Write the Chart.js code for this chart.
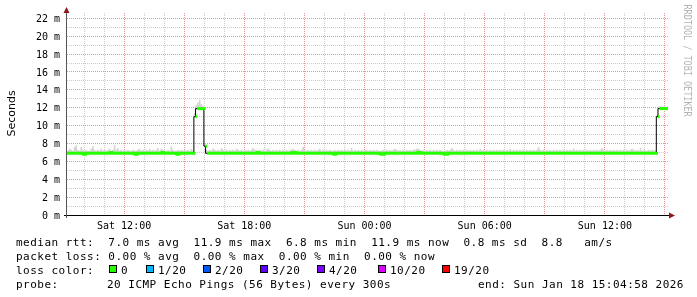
<!DOCTYPE html>
<html>
<head>
<meta charset="utf-8">
<script src="https://cdn.jsdelivr.net/npm/chart.js@4.4.1/dist/chart.umd.min.js"></script>
<style>
  html, body { margin: 0; padding: 0; background: #fff; }
  #wrap { position: relative; width: 697px; height: 297px; }
</style>
</head>
<body>
<div id="wrap"><canvas id="smoke" width="697" height="297"></canvas></div>
<script>
// time axis: minutes since Sat 00:00, one sample every 5 minutes
const startMin = 549;
const endMin = 2349;
const stepMin = 5;

// median rtt in ms, one row = 1 hour
const medianMs = [
  6.9,6.9,6.9,6.9,6.9,6.9,6.9,6.9,6.9,6.9,6.8,6.9,
  6.9,6.9,6.9,6.9,6.9,6.9,6.9,6.9,6.9,6.9,6.9,6.9,
  6.9,6.9,7.0,6.9,6.9,6.9,6.9,6.9,6.9,6.9,6.9,6.9,
  6.9,6.9,6.9,6.9,6.9,6.8,6.9,6.9,6.9,6.9,6.9,6.9,
  6.9,6.9,6.9,6.9,6.9,6.9,6.9,6.9,6.9,7.0,6.9,6.9,
  6.9,6.9,6.9,6.9,6.9,6.9,6.8,6.9,6.9,6.9,6.9,6.9,
  6.9,6.9,6.9,6.9,6.9,11.0,11.9,11.9,11.9,11.9,11.9,7.7,
  6.9,6.9,6.9,6.9,6.9,6.9,6.9,6.9,6.9,6.9,6.9,6.9,
  6.9,6.9,6.9,6.9,6.9,6.9,6.9,6.9,6.9,6.9,6.9,6.9,
  6.9,6.9,6.9,6.9,6.9,6.9,7.0,6.9,6.9,6.9,6.9,6.9,
  6.9,6.9,6.9,6.9,6.9,6.9,6.9,6.9,6.9,6.9,6.9,6.9,
  6.9,6.9,6.9,7.0,7.0,6.9,6.9,6.9,6.9,6.9,6.9,6.9,
  6.9,6.9,6.9,6.9,6.9,6.9,6.9,6.9,6.9,6.9,6.9,6.9,
  6.9,6.9,6.9,6.9,6.8,6.9,6.9,6.9,6.9,6.9,6.9,6.9,
  6.9,6.9,6.9,6.9,6.9,6.9,6.9,6.9,6.9,6.9,6.9,6.9,
  6.9,6.9,6.9,6.9,6.9,6.9,6.9,6.9,6.8,6.8,6.9,6.9,
  6.9,6.9,6.9,6.9,6.9,6.9,6.9,6.9,6.9,6.9,6.9,6.9,
  6.9,6.9,6.9,6.9,6.9,6.9,7.0,7.0,6.9,6.9,6.9,6.9,
  6.9,6.9,6.9,6.9,6.9,6.9,6.9,6.9,6.9,6.9,6.8,6.8,
  6.9,6.9,6.9,6.9,6.9,6.9,6.9,6.9,6.9,6.9,6.9,6.9,
  6.9,6.9,6.9,6.9,6.9,6.9,6.9,6.9,6.9,6.9,6.9,6.9,
  6.9,6.9,6.9,6.9,6.9,6.9,6.9,6.9,6.9,6.9,6.9,6.9,
  6.9,6.9,6.9,6.9,6.9,6.9,6.9,6.9,6.9,6.9,6.9,6.9,
  6.9,6.9,6.9,6.9,6.9,6.9,6.9,6.9,6.9,6.9,6.9,6.9,
  6.9,6.9,6.9,6.9,6.9,6.9,6.9,6.9,6.9,6.9,6.9,6.9,
  6.9,6.9,6.9,6.9,6.9,6.9,6.9,6.9,6.9,6.9,6.9,6.9,
  6.9,6.9,6.9,6.9,6.9,6.9,6.9,6.9,6.9,6.9,6.9,6.9,
  6.9,6.9,6.9,6.9,6.9,6.9,6.9,6.9,6.9,6.9,6.9,6.9,
  6.9,6.9,6.9,6.9,6.9,6.9,6.9,6.9,6.9,6.9,6.9,6.9,
  6.9,6.9,6.9,6.9,6.9,6.9,11.0,11.9,11.9,11.9,11.9,11.9,
  11.9
];

// top of the ping "smoke" in ms
const smokeTopMs = [
  7.3,7.2,7.4,7.3,7.2,7.6,7.8,7.3,7.2,7.6,7.3,7.2,
  7.3,7.2,7.2,7.4,7.7,7.3,7.2,7.3,7.2,7.4,7.2,7.3,
  7.2,7.3,7.4,7.2,7.3,7.8,7.3,7.5,7.2,7.3,7.2,7.3,
  7.2,7.3,7.2,7.2,7.3,7.2,7.2,7.3,7.4,7.2,7.3,7.2,
  7.3,7.2,7.4,7.2,7.3,7.2,7.3,7.5,7.2,7.4,7.3,7.2,
  7.2,7.3,7.2,7.7,7.3,7.2,7.2,7.3,7.2,7.3,7.2,7.3,
  7.2,7.3,7.2,7.4,7.2,11.4,12.3,12.6,12.9,12.4,12.2,8.0,
  7.3,7.2,7.3,7.2,7.4,7.3,7.2,7.3,7.2,7.5,7.3,7.2,
  7.3,7.2,7.3,7.2,7.3,7.2,7.4,7.3,7.2,7.3,7.2,7.3,
  7.2,7.3,7.2,7.3,7.5,7.3,7.3,7.2,7.3,7.2,7.3,7.2,
  7.3,7.4,7.3,7.2,7.3,7.2,7.3,7.2,7.3,7.2,7.3,7.2,
  7.3,7.2,7.3,7.3,7.4,7.3,7.2,7.3,7.2,7.3,7.6,7.3,
  7.2,7.3,7.2,7.3,7.2,7.3,7.2,7.3,7.4,7.2,7.3,7.2,
  7.3,7.2,7.3,7.2,7.2,7.3,7.2,7.3,7.2,7.3,7.2,7.3,
  7.2,7.3,7.2,7.5,7.2,7.3,7.2,7.3,7.2,7.3,7.2,7.3,
  7.3,7.2,7.3,7.2,7.3,7.2,7.3,7.2,7.2,7.2,7.3,7.2,
  7.3,7.2,7.3,7.2,7.3,7.4,7.3,7.2,7.3,7.2,7.3,7.2,
  7.3,7.2,7.3,7.2,7.3,7.3,7.4,7.4,7.3,7.2,7.3,7.2,
  7.3,7.2,7.3,7.2,7.3,7.2,7.3,7.2,7.3,7.2,7.2,7.2,
  7.3,7.2,7.3,7.5,7.3,7.2,7.3,7.2,7.3,7.2,7.3,7.2,
  7.3,7.2,7.3,7.2,7.3,7.2,7.3,7.2,7.4,7.2,7.3,7.2,
  7.3,7.2,7.3,7.2,7.3,7.2,7.3,7.2,7.3,7.2,7.3,7.2,
  7.3,7.2,7.4,7.2,7.3,7.2,7.3,7.2,7.3,7.2,7.3,7.2,
  7.3,7.2,7.3,7.2,7.3,7.2,7.3,7.6,7.3,7.2,7.3,7.2,
  7.3,7.2,7.3,7.2,7.3,7.2,7.3,7.2,7.3,7.2,7.3,7.2,
  7.3,7.2,7.3,7.2,7.4,7.2,7.3,7.2,7.3,7.2,7.3,7.2,
  7.3,7.2,7.3,7.2,7.3,7.2,7.3,7.2,7.3,7.5,7.3,7.2,
  7.3,7.2,7.3,7.2,7.3,7.2,7.3,7.2,7.3,7.2,7.3,7.2,
  7.3,7.2,7.3,7.4,7.3,7.2,7.3,7.2,7.5,7.2,7.3,7.2,
  7.2,7.3,7.2,7.3,7.2,7.3,11.2,12.1,12.2,12.1,12.1,12.1,
  12.1
];

const yGridValues = [0,1,2,3,4,5,6,7,8,9,10,11,12,13,14,15,16,17,18,19,20,21,22];
const xTickMinutes = [720, 1080, 1440, 1800, 2160];
const xTickLabels = ['Sat 12:00', 'Sat 18:00', 'Sun 00:00', 'Sun 06:00', 'Sun 12:00'];

const lossLabels = ['0', '1/20', '2/20', '3/20', '4/20', '10/20', '19/20'];
const lossColors = ['#26ff00', '#00b8ff', '#0059ff', '#5e00ff', '#7e00ff', '#dd00ff', '#ff0000'];

const legendRtt = 'median rtt:  7.0 ms avg  11.9 ms max  6.8 ms min  11.9 ms now  0.8 ms sd  8.8   am/s';
const legendLoss = 'packet loss: 0.00 % avg  0.00 % max  0.00 % min  0.00 % now';
const legendProbe = '20 ICMP Echo Pings (56 Bytes) every 300s';
const legendEnd = 'end: Sun Jan 18 15:04:58 2026';

const MAJOR = 'rgb(232,150,150)';
const MINOR = 'rgb(205,205,205)';

const medianPoints = medianMs.map((v, i) => ({ x: startMin + i * stepMin, y: v }));
const smokePoints = smokeTopMs.map((v, i) => ({ x: startMin + i * stepMin, y: v }));
const bandPoints = medianMs.flatMap((v, i) => [
  { x: startMin + i * stepMin, y: v },
  { x: startMin + (i + 1) * stepMin, y: v }
]);

const hourTicks = [];
for (let m = 600; m < endMin; m += 60) hourTicks.push({ value: m });

const rrdDecor = {
  id: 'rrdDecor',
  afterDraw(chart) {
    const ctx = chart.ctx, a = chart.chartArea;
    ctx.save();
    // axes
    ctx.strokeStyle = '#000';
    ctx.lineWidth = 1;
    ctx.beginPath();
    ctx.moveTo(a.left - 3, a.bottom + 0.5);
    ctx.lineTo(a.right + 4, a.bottom + 0.5);
    ctx.stroke();
    ctx.strokeStyle = '#555';
    ctx.beginPath();
    ctx.moveTo(a.left - 0.5, a.bottom + 3);
    ctx.lineTo(a.left - 0.5, a.top - 3);
    ctx.stroke();
    // arrows
    ctx.fillStyle = '#8b1a1a';
    ctx.beginPath();
    ctx.moveTo(a.left - 0.5, a.top - 6);
    ctx.lineTo(a.left - 3.5, a.top);
    ctx.lineTo(a.left + 2.5, a.top);
    ctx.closePath();
    ctx.fill();
    ctx.beginPath();
    ctx.moveTo(a.right + 7, a.bottom + 0.5);
    ctx.lineTo(a.right + 1, a.bottom - 2.5);
    ctx.lineTo(a.right + 1, a.bottom + 3.5);
    ctx.closePath();
    ctx.fill();

    // y title
    ctx.fillStyle = '#000';
    ctx.font = '11px "DejaVu Sans"';
    ctx.textAlign = 'center';
    ctx.textBaseline = 'alphabetic';
    ctx.save();
    ctx.translate(15, 113.5);
    ctx.rotate(-Math.PI / 2);
    ctx.fillText('Seconds', 0, 0);
    ctx.restore();

    // watermark
    ctx.save();
    ctx.fillStyle = '#b4b4b4';
    ctx.font = '11px "DejaVu Sans Mono"';
    ctx.textAlign = 'left';
    ctx.translate(683.5, 4.5);
    ctx.rotate(Math.PI / 2);
    ctx.scale(0.77, 1);
    ctx.fillText('RRDTOOL / TOBI OETIKER', 0, 0);
    ctx.restore();

    // legend
    ctx.fillStyle = '#000';
    ctx.font = '11px "DejaVu Sans Mono"';
    ctx.letterSpacing = '0.48px';
    ctx.textAlign = 'left';
    ctx.textBaseline = 'alphabetic';
    ctx.fillText(legendRtt, 16, 245.5);
    ctx.fillText(legendLoss, 16, 259.5);
    ctx.fillText('loss color:', 16, 273.5);
    const boxX = [109, 146, 203, 260, 317, 378, 442];
    lossLabels.forEach((lab, i) => {
      ctx.fillStyle = lossColors[i];
      ctx.fillRect(boxX[i], 265, 8, 8);
      ctx.strokeStyle = '#000';
      ctx.strokeRect(boxX[i] + 0.5, 265.5, 7, 7);
      ctx.fillStyle = '#000';
      ctx.fillText(lab, boxX[i] + 12, 273.5);
    });
    ctx.fillText('probe:', 16, 287.5);
    ctx.fillText(legendProbe, 107, 287.5);
    ctx.fillText(legendEnd, 478, 287.5);
    ctx.restore();
  }
};

Chart.defaults.font.family = '"DejaVu Sans Mono"';
Chart.defaults.font.size = 10;
Chart.defaults.color = '#000';

new Chart(document.getElementById('smoke'), {
  type: 'line',
  data: {
    datasets: [
      {
        label: 'loss 0',
        data: bandPoints,
        borderColor: lossColors[0],
        borderWidth: 3,
        pointRadius: 0,
        fill: false,
        order: 1,
        segment: {
          borderColor: c => Math.abs(c.p0.parsed.y - c.p1.parsed.y) > 0.5 ? 'rgba(0,0,0,0)' : lossColors[0]
        }
      },
      {
        label: 'median',
        data: medianPoints,
        borderColor: '#000',
        borderWidth: 1,
        stepped: 'after',
        pointRadius: 0,
        fill: false,
        order: 2
      },
      {
        label: 'smoke',
        data: smokePoints,
        borderColor: 'rgba(0,0,0,0)',
        borderWidth: 0,
        backgroundColor: '#d4d4d4',
        stepped: 'after',
        pointRadius: 0,
        fill: 1,
        order: 3
      }
    ]
  },
  options: {
    responsive: false,
    animation: false,
    devicePixelRatio: 1,
    layout: { padding: { top: 13, right: 29, left: 0, bottom: 0 } },
    plugins: { legend: { display: false }, tooltip: { enabled: false } },
    scales: {
      x: {
        type: 'linear',
        min: startMin,
        max: endMin,
        afterBuildTicks: s => { s.ticks = hourTicks.slice(); },
        afterFit: s => { s.height = 82; },
        grid: {
          drawTicks: false,
          color: c => (c.tick && c.tick.value % 180 === 0) ? MAJOR : MINOR
        },
        border: { display: false, dash: [1, 1] },
        ticks: {
          autoSkip: false,
          maxRotation: 0,
          padding: 5,
          callback: v => {
            const k = xTickMinutes.indexOf(v);
            return k >= 0 ? xTickLabels[k] : '';
          }
        }
      },
      y: {
        min: 0,
        max: 22.6,
        afterBuildTicks: s => { s.ticks = yGridValues.map(v => ({ value: v })); },
        afterFit: s => { s.width = 67; },
        grid: {
          drawTicks: false,
          color: c => (c.tick && c.tick.value % 2 === 0) ? MAJOR : MINOR
        },
        border: { display: false, dash: [1, 1] },
        ticks: {
          autoSkip: false,
          padding: 7,
          labelOffset: 1,
          callback: v => v % 2 === 0 ? v + ' m' : ''
        }
      }
    }
  },
  plugins: [rrdDecor]
});
</script>
</body>
</html>
